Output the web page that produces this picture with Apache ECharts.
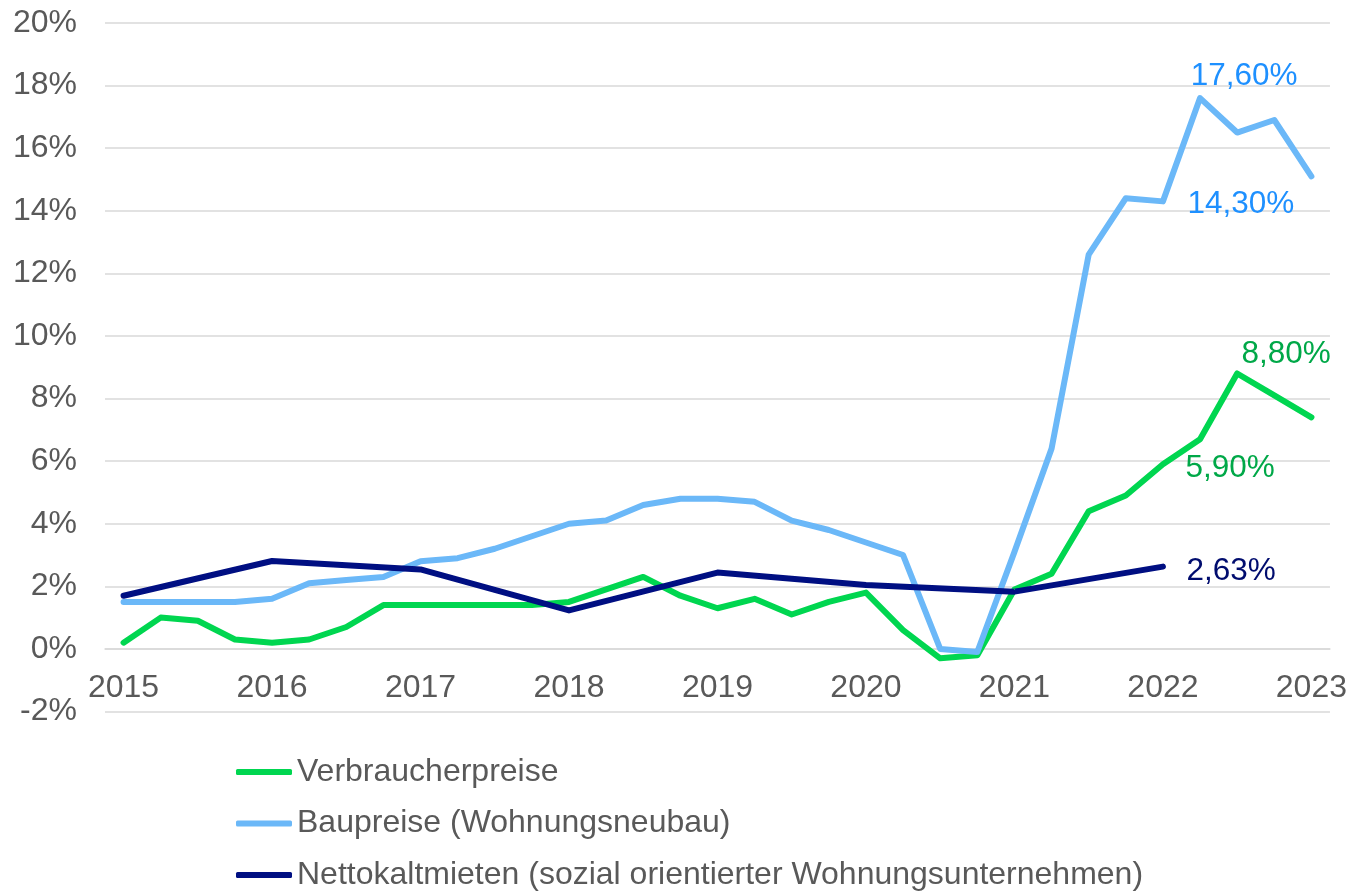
<!DOCTYPE html>
<html>
<head>
<meta charset="utf-8">
<script src="https://cdn.jsdelivr.net/npm/echarts@6/dist/echarts.min.js"></script>
<style>
  html, body { margin: 0; padding: 0; background: #fff; }
  #chart { width: 1350px; height: 891px; }
</style>
</head>
<body>
<div id="chart"></div>
<script>
// Quartale 2015 Q1 .. 2023 Q1
const quarters = [
  "2015 Q1", "2015 Q2", "2015 Q3", "2015 Q4",
  "2016 Q1", "2016 Q2", "2016 Q3", "2016 Q4",
  "2017 Q1", "2017 Q2", "2017 Q3", "2017 Q4",
  "2018 Q1", "2018 Q2", "2018 Q3", "2018 Q4",
  "2019 Q1", "2019 Q2", "2019 Q3", "2019 Q4",
  "2020 Q1", "2020 Q2", "2020 Q3", "2020 Q4",
  "2021 Q1", "2021 Q2", "2021 Q3", "2021 Q4",
  "2022 Q1", "2022 Q2", "2022 Q3", "2022 Q4",
  "2023 Q1"
];

const seriesNames = [
  "Verbraucherpreise",
  "Baupreise (Wohnungsneubau)",
  "Nettokaltmieten (sozial orientierter Wohnungsunternehmen)"
];

const verbraucherpreise = [
  0.2, 1.0, 0.9, 0.3,
  0.2, 0.3, 0.7, 1.4,
  1.4, 1.4, 1.4, 1.4,
  1.5, 1.9, 2.3, 1.7,
  1.3, 1.6, 1.1, 1.5,
  1.8, 0.6, -0.3, -0.2,
  1.9, 2.4, 4.4, 4.9,
  5.9, 6.7, 8.8, 8.1,
  7.4
];

const baupreise = [
  1.5, 1.5, 1.5, 1.5,
  1.6, 2.1, 2.2, 2.3,
  2.8, 2.9, 3.2, 3.6,
  4.0, 4.1, 4.6, 4.8,
  4.8, 4.7, 4.1, 3.8,
  3.4, 3.0, 0.0, -0.1,
  3.1, 6.4, 12.6, 14.4,
  14.3, 17.6, 16.5, 16.9,
  15.1
];

// nur Jahreswerte
const nettokaltmieten = [
  1.7, null, null, null,
  2.81, null, null, null,
  2.54, null, null, null,
  1.23, null, null, null,
  2.44, null, null, null,
  2.04, null, null, null,
  1.83, null, null, null,
  2.63, null, null, null,
  null
];

const yTicks = { min: -2, max: 20, interval: 2 };

// Beschriftungen: [Reihe, Index, Text]
const pointLabels = [
  [1, 29, "17,60%"],
  [1, 28, "14,30%"],
  [0, 30, "8,80%"],
  [0, 28, "5,90%"],
  [2, 28, "2,63%"]
];

const lineColors = ["#00D650", "#6BB8F8", "#000F82"];
const labelColors = ["#00A848", "#1E90FF", "#000C6E"];
const labelPlace = {
  "17,60%": { position: "top", distance: 5, offset: [44, 0] },
  "8,80%": { position: "top", distance: 3, offset: [49, 0] },
  "14,30%": { position: "right", distance: 24, offset: [0, 3] },
  "5,90%": { position: "right", distance: 22, offset: [0, 4] },
  "2,63%": { position: "right", distance: 23, offset: [0, 5] }
};

const font = "'Liberation Sans', Arial, sans-serif";
const raw = [verbraucherpreise, baupreise, nettokaltmieten];

function buildData(si) {
  return raw[si].map(function (v, i) {
    const lab = pointLabels.find(function (p) { return p[0] === si && p[1] === i; });
    if (!lab) return v;
    const place = labelPlace[lab[2]];
    return {
      value: v,
      label: {
        show: true,
        formatter: lab[2],
        position: place.position,
        distance: place.distance,
        offset: place.offset,
        color: labelColors[si],
        fontSize: 31.5,
        fontFamily: font
      }
    };
  });
}

let myChart = echarts.init(document.getElementById("chart"));
myChart.setOption({
  animation: false,
  color: lineColors,
  grid: { left: 105, right: 20, top: 23, bottom: 179.5, containLabel: false },
  legend: {
    orient: "vertical",
    left: 231,
    top: 751,
    height: 200,
    itemWidth: 56,
    itemHeight: 6,
    itemGap: 19.5,
    icon: "roundRect",
    data: seriesNames,
    textStyle: { color: "#595959", fontSize: 32, fontFamily: font }
  },
  xAxis: {
    type: "category",
    data: quarters,
    boundaryGap: true,
    axisLine: { show: true, onZero: true, lineStyle: { color: "#d9d9d9", width: 1.5 } },
    axisTick: { show: false },
    axisLabel: {
      interval: 3,
      margin: -39.5,
      color: "#595959",
      fontSize: 32,
      fontFamily: font,
      formatter: function (v) { return v.slice(0, 4); }
    },
    splitLine: { show: false }
  },
  yAxis: {
    type: "value",
    min: yTicks.min,
    max: yTicks.max,
    interval: yTicks.interval,
    axisLine: { show: false },
    axisTick: { show: false },
    axisLabel: {
      margin: 28,
      color: "#595959",
      fontSize: 32,
      fontFamily: font,
      formatter: "{value}%"
    },
    splitLine: { lineStyle: { color: "#d9d9d9", width: 1.5 } }
  },
  series: [0, 1, 2].map(function (si) {
    return {
      name: seriesNames[si],
      type: "line",
      data: buildData(si),
      connectNulls: true,
      symbol: "circle",
      symbolSize: 1,
      showSymbol: true,
      lineStyle: { width: 6, color: lineColors[si], cap: "round", join: "round" },
      itemStyle: { color: lineColors[si] }
    };
  })
});
</script>
</body>
</html>
